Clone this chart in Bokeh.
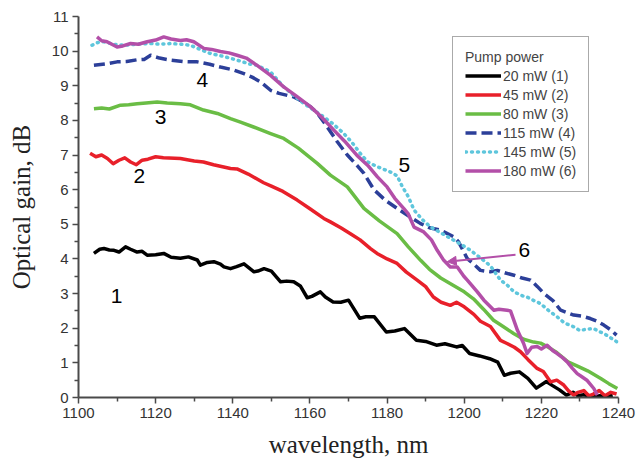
from bokeh.plotting import figure
from bokeh.models import (Range1d, FixedTicker, Legend, LegendItem, Arrow,
                          NormalHead, ColumnDataSource)
from bokeh.core.properties import value
from bokeh.embed import file_html
from bokeh.resources import INLINE

# ---- data ----
x1 = [1104, 1105.5, 1106.6, 1108, 1109.2, 1110.5, 1112.2, 1113.5, 1115.2, 1116.5, 1117.8, 1120, 1122.1, 1124,
      1126.4, 1128.5, 1130.8, 1131.6, 1133.4, 1135.1, 1136.8, 1137.7, 1139.4, 1141, 1142.9, 1145.5, 1146.5,
      1148.1, 1150, 1152.4, 1154, 1155.8, 1157.5, 1159.3, 1160.5, 1162.7, 1164, 1166, 1168, 1170, 1172.9, 1174.5,
      1176.7, 1179.8, 1182, 1184.5, 1187.6, 1190, 1192.8, 1195, 1198, 1199.5, 1201.4, 1204, 1206.6, 1208.7,
      1210.4, 1212, 1214.3, 1216.5, 1218.7, 1221.3, 1222.8, 1224.7, 1226.5, 1228.2, 1229.5, 1231, 1233, 1235,
      1237, 1238.5]
y1 = [4.16, 4.28, 4.3, 4.26, 4.25, 4.2, 4.35, 4.28, 4.2, 4.22, 4.11, 4.12, 4.16, 4.05, 4.02, 4.06, 3.97, 3.82,
      3.9, 3.92, 3.85, 3.77, 3.72, 3.78, 3.86, 3.63, 3.65, 3.72, 3.65, 3.34, 3.36, 3.34, 3.22, 2.88, 2.92, 3.05,
      2.9, 2.76, 2.75, 2.81, 2.29, 2.33, 2.33, 1.89, 1.92, 1.99, 1.65, 1.62, 1.51, 1.55, 1.46, 1.5, 1.27, 1.2,
      1.12, 1.02, 0.64, 0.7, 0.74, 0.55, 0.27, 0.46, 0.35, 0.22, 0.07, 0.15, 0.05, 0.08, 0.02, 0.05, 0.03, 0.06]

x2 = [1103, 1104.5, 1106, 1107.5, 1109, 1110.5, 1112, 1113.5, 1115, 1116.5, 1118, 1120, 1122, 1126.4, 1130,
      1132.4, 1135, 1139.4, 1141.1, 1144, 1148, 1150, 1153, 1156.7, 1160, 1163.6, 1165.3, 1168, 1170.5, 1173,
      1175.7, 1177.4, 1180, 1182.6, 1185, 1187.8, 1190, 1192, 1194, 1196.4, 1198, 1200, 1202.5, 1204.2, 1206.8,
      1209.4, 1211.1, 1213, 1214.6, 1216.5, 1218.9, 1220.5, 1222.4, 1224, 1225.8, 1227, 1228.4, 1229.5, 1231,
      1232.3, 1233.5, 1235, 1236.5, 1238, 1239.5]
y2 = [7.05, 6.95, 7.0, 6.9, 6.75, 6.85, 6.92, 6.8, 6.72, 6.85, 6.88, 6.95, 6.92, 6.9, 6.83, 6.8, 6.72, 6.61,
      6.6, 6.45, 6.2, 6.1, 5.95, 5.7, 5.45, 5.17, 5.07, 4.9, 4.73, 4.55, 4.3, 4.16, 4.0, 3.87, 3.62, 3.39, 3.2,
      2.9, 2.75, 2.66, 2.75, 2.62, 2.4, 2.2, 2.05, 1.65, 1.56, 1.45, 1.32, 1.1, 0.84, 0.75, 0.45, 0.5, 0.36,
      0.2, 0.07, 0.15, 0.2, 0.05, 0.1, 0.2, 0.05, 0.15, 0.1]

x3 = [1104, 1106, 1108, 1110.9, 1113, 1115.2, 1117.5, 1120.4, 1123, 1126.4, 1129, 1132.4, 1136, 1139.4, 1142,
      1145.4, 1149.8, 1153.2, 1157, 1161.9, 1165.3, 1169.7, 1174, 1178, 1182.6, 1185.5, 1188.7, 1191, 1193.9,
      1197, 1200, 1202.4, 1205, 1207.6, 1209.4, 1212.8, 1215.4, 1218, 1219.8, 1221.5, 1224, 1226.9, 1229.5,
      1232, 1235.4, 1237.5, 1239.7]
y3 = [8.34, 8.36, 8.33, 8.44, 8.45, 8.48, 8.5, 8.53, 8.5, 8.48, 8.45, 8.3, 8.2, 8.05, 7.95, 7.81, 7.62, 7.48,
      7.2, 6.76, 6.42, 6.08, 5.46, 5.1, 4.73, 4.35, 3.96, 3.7, 3.45, 3.25, 3.05, 2.85, 2.55, 2.23, 2.1, 1.85,
      1.68, 1.6, 1.57, 1.47, 1.3, 1.03, 0.9, 0.77, 0.55, 0.4, 0.26]

x4 = [1104, 1107, 1110, 1112.5, 1115.2, 1117, 1118.7, 1121, 1123.9, 1127, 1130.8, 1134, 1136.8, 1140, 1142.9,
      1145, 1147.2, 1149.8, 1152, 1155.8, 1158, 1160.2, 1162, 1164.5, 1167, 1169.7, 1172.2, 1174, 1176.6,
      1179.5, 1182.6, 1185.5, 1188.7, 1191, 1193.9, 1197.3, 1198.5, 1200.8, 1202.5, 1204.2, 1206.8, 1208.6,
      1210.5, 1212.9, 1215, 1217.2, 1219, 1220.7, 1223, 1225, 1228.4, 1230.5, 1232.7, 1234.5, 1236.2, 1238,
      1239.5]
y4 = [9.59, 9.63, 9.69, 9.7, 9.75, 9.76, 9.88, 9.8, 9.74, 9.7, 9.69, 9.62, 9.54, 9.46, 9.35, 9.25, 9.11, 8.87,
      8.78, 8.68, 8.55, 8.39, 8.2, 7.81, 7.4, 7.0, 6.7, 6.47, 6.0, 5.7, 5.46, 5.25, 5.02, 4.9, 4.83, 4.64, 4.5,
      4.01, 3.85, 3.67, 3.63, 3.67, 3.6, 3.53, 3.45, 3.39, 3.2, 3.0, 2.8, 2.52, 2.38, 2.35, 2.28, 2.2, 2.09,
      1.95, 1.8]

x5 = [1103.5, 1105, 1106.6, 1109, 1111.7, 1115, 1118.7, 1121, 1123.9, 1126.5, 1129, 1131.5, 1134.2, 1137.5,
      1141.1, 1144.6, 1146.3, 1149.8, 1153.2, 1155.5, 1158.4, 1161, 1163.6, 1166, 1168.8, 1171, 1173.1, 1175,
      1177.5, 1180.9, 1182.6, 1183.9, 1185.5, 1187, 1189, 1191.3, 1194, 1197.3, 1199.5, 1201.6, 1204, 1206.8,
      1209.4, 1211.1, 1212.9, 1215.4, 1216.3, 1218, 1219.8, 1222, 1224.1, 1226, 1228.4, 1230, 1231.5, 1233.6,
      1235, 1236.2, 1238, 1239.7]
y5 = [10.17, 10.25, 10.27, 10.2, 10.17, 10.2, 10.22, 10.2, 10.22, 10.2, 10.17, 10.05, 9.93, 9.85, 9.74, 9.62,
      9.59, 9.4, 8.97, 8.75, 8.49, 8.3, 8.1, 7.9, 7.62, 7.35, 7.04, 6.8, 6.66, 6.51, 6.4, 6.1, 5.8, 5.41, 5.15,
      4.92, 4.75, 4.54, 4.4, 4.25, 4.05, 3.8, 3.39, 3.25, 3.05, 2.92, 2.9, 2.8, 2.71, 2.5, 2.33, 2.15, 2.04,
      1.93, 1.97, 1.99, 1.9, 1.85, 1.72, 1.6]

x6 = [1104.8, 1106, 1107.4, 1110, 1111.5, 1113.5, 1115.5, 1117.8, 1120, 1122.1, 1124, 1126.4, 1128, 1129.9,
      1132.5, 1134.5, 1136.8, 1139, 1141.1, 1143.5, 1146.3, 1149.8, 1153.2, 1156.5, 1160.2, 1163, 1166.2, 1169,
      1172.2, 1175, 1177.5, 1180, 1182, 1184.3, 1185.5, 1187, 1189.5, 1191.5, 1193, 1194.7, 1196.4, 1198.2,
      1199.9, 1200.8, 1203.4, 1205.1, 1207.7, 1209, 1211.1, 1212, 1213.8, 1215.4, 1216.3, 1217.5, 1218.9, 1220,
      1221.5, 1223, 1224.1, 1225.5, 1226.7, 1228, 1229.3, 1230.5, 1231.9, 1233.6, 1234.5]
y6 = [10.41, 10.3, 10.27, 10.12, 10.15, 10.22, 10.2, 10.27, 10.32, 10.41, 10.35, 10.31, 10.33, 10.27, 10.08,
      10.05, 9.99, 9.95, 9.88, 9.8, 9.59, 9.3, 8.97, 8.7, 8.39, 8.1, 7.72, 7.4, 6.99, 6.7, 6.37, 6.08, 5.75,
      5.46, 5.3, 4.92, 4.78, 4.55, 4.25, 3.96, 3.77, 3.77, 3.5, 3.39, 3.05, 2.81, 2.52, 2.55, 2.52, 2.5, 1.94,
      1.56, 1.27, 1.45, 1.47, 1.4, 1.51, 1.35, 1.27, 1.15, 1.03, 0.85, 0.69, 0.6, 0.49, 0.26, 0.07]

legend_labels = ["20 mW (1)", "45 mW (2)", "80 mW (3)", "115 mW (4)", "145 mW (5)", "180 mW (6)"]
curve_names = ["1", "2", "3", "4", "5", "6"]
name_x = [1109.9, 1115.8, 1121.3, 1132.1, 1184.5, 1215.6]
name_y = [2.92, 6.39, 8.1, 9.16, 6.7, 4.25]
arrow_from = (1213.3, 4.12)
arrow_to = (1195.6, 3.92)

x_ticks = [1100, 1120, 1140, 1160, 1180, 1200, 1220, 1240]
x_minor = [1110, 1130, 1150, 1170, 1190, 1210, 1230]
y_ticks = list(range(0, 12))
y_minor = [i + 0.5 for i in range(0, 11)]

colors = ["#000000", "#e8202a", "#6abd45", "#2c3f99", "#5ec6dc", "#b34fa8"]
dashes = ["solid", "solid", "solid", "11 5", "1 5", "solid"]

# ---- figure ----
p = figure(width=636, height=466, output_backend="svg", toolbar_location=None,
           x_range=Range1d(1100, 1240), y_range=Range1d(0, 11),
           min_border_left=78, min_border_right=18, min_border_top=16, min_border_bottom=69)
p.outline_line_color = None
p.grid.visible = False
p.background_fill_color = "white"

renderers = []
for xs, ys, c, d in zip([x1, x2, x3, x4, x5, x6], [y1, y2, y3, y4, y5, y6], colors, dashes):
    cap = "round" if d == "1 5" else "butt"
    r = p.line(xs, ys, line_color=c, line_width=3.5, line_dash=d, line_cap=cap, line_join="round")
    renderers.append(r)

src = ColumnDataSource(dict(x=name_x, y=name_y, t=curve_names))
p.text(x="x", y="y", text="t", source=src, text_font=value("Liberation Sans"),
       text_font_size="21px", text_align="center", text_baseline="middle", text_color="black")

p.add_layout(Arrow(end=NormalHead(size=9, line_color=colors[5], fill_color=colors[5], line_width=1),
                   x_start=arrow_from[0], y_start=arrow_from[1], x_end=arrow_to[0], y_end=arrow_to[1],
                   line_color=colors[5], line_width=2))

axis_col = "#4a4a4a"
for ax in (p.xaxis[0], p.yaxis[0]):
    ax.axis_line_color = axis_col
    ax.axis_line_width = 2
    ax.major_tick_line_color = axis_col
    ax.minor_tick_line_color = axis_col
    ax.major_tick_line_width = 1.5
    ax.minor_tick_line_width = 1.5
    ax.major_tick_in = 0
    ax.major_tick_out = 6
    ax.minor_tick_in = 0
    ax.minor_tick_out = 4
    ax.major_label_text_font = "Liberation Sans"
    ax.major_label_text_font_size = "15px"
    ax.major_label_text_color = "#333333"
    ax.major_label_standoff = 4
    ax.axis_label_text_font = "Liberation Serif"
    ax.axis_label_text_font_size = "25px"
    ax.axis_label_text_font_style = "normal"
    ax.axis_label_text_color = "#222222"
p.xaxis[0].axis_label_standoff = 10
p.yaxis[0].axis_label_standoff = 14

p.xaxis[0].ticker = FixedTicker(ticks=x_ticks, minor_ticks=x_minor)
p.yaxis[0].ticker = FixedTicker(ticks=y_ticks, minor_ticks=y_minor)
p.xaxis[0].axis_label = "wavelength, nm"
p.yaxis[0].axis_label = "Optical gain, dB"

legend = Legend(items=[LegendItem(label=l, renderers=[r]) for l, r in zip(legend_labels, renderers)],
                location=(374, 205), title="Pump power", title_text_font="Liberation Sans",
                title_text_font_size="14px", title_text_font_style="normal", title_standoff=2,
                label_text_font="Liberation Sans", label_text_font_size="14px",
                glyph_width=36, glyph_height=17, label_height=17, label_standoff=2, spacing=2,
                padding=12, margin=0, border_line_color="#555555", border_line_width=1,
                background_fill_alpha=1)
p.add_layout(legend, "center")

open("out.html", "w").write(file_html(p, INLINE))
